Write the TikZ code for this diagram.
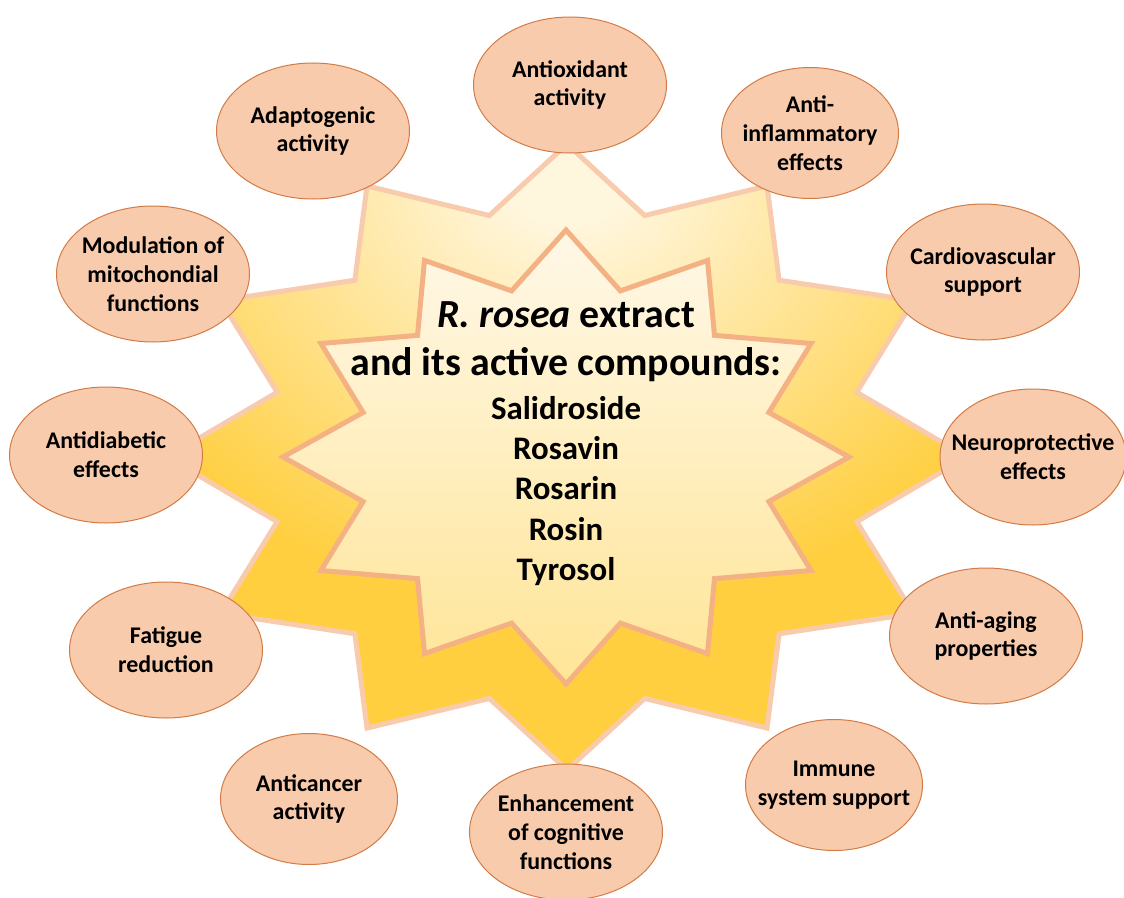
\documentclass[tikz,border=0pt]{standalone}
\usepackage{fontspec}
\setmainfont{Carlito}
\usetikzlibrary{shapes.geometric}

\definecolor{effectfill}{HTML}{F8CBAD}
\definecolor{effectline}{HTML}{D27B45}
\definecolor{starline}{HTML}{F8CBAD}
\definecolor{coreline}{HTML}{F4B183}
\definecolor{glowlight}{HTML}{FFF6DE}
\definecolor{glowgold}{HTML}{FFCF40}
\definecolor{coretop}{HTML}{FFF8E8}
\definecolor{corebottom}{HTML}{FFE597}

\pgfdeclareradialshading{starglow}{\pgfpoint{0bp}{0bp}}{%
  color(0bp)=(glowlight); color(3bp)=(glowlight);
  color(25bp)=(glowgold); color(50bp)=(glowgold)}

% 12-point stars, polar with separate x and y radii
\def\outerstar{(90:400 and 313) \foreach \a in {90,120,...,390}
  {-- (\a+15:300 and 250) -- (\a+30:400 and 313)} -- (75:300 and 250) -- cycle}
\def\innerstar{(90:283 and 227) \foreach \a in {90,120,...,390}
  {-- (\a+15:210 and 172) -- (\a+30:283 and 227)} -- (75:210 and 172) -- cycle}

\begin{document}
\begin{tikzpicture}[x=1bp, y=-1bp,
  effect/.style = {shape=ellipse, draw=effectline, fill=effectfill,
    line width=1bp, inner xsep=-25bp, inner ysep=0pt, align=center,
    minimum width=193bp, minimum height=136bp,
    font=\fontsize{24}{29}\selectfont\bfseries},
  narrow/.style = {minimum width=177bp, minimum height=131bp},
  core/.style = {align=center, inner sep=0pt, anchor=north}]
  \useasboundingbox (0,0) rectangle (1124,898);
  \begin{scope}[shift={(567,457)}]
    \fill[glowgold] \outerstar;
    \begin{scope}
      \clip \outerstar;
      \shade[shading=starglow] (0,-287) ellipse (520 and 440);
    \end{scope}
    \draw[starline, line width=5bp] \outerstar;
  \end{scope}
  \shadedraw[top color=coretop, bottom color=corebottom, draw=coreline,
    line width=5bp, shift={(566,457)}] \innerstar;

  \node[core, font=\fontsize{40}{49}\selectfont\bfseries] (title) at (566,301)
    {\textit{R. rosea} extract\\and its active compounds:};
  \node[core, font=\fontsize{33}{40.5}\selectfont\bfseries] (compounds) at (566,396)
    {Salidroside\\Rosavin\\Rosarin\\Rosin\\Tyrosol};

  \node[effect] (antiox) at (570,85) {Antioxidant\\activity};
  \node[effect, narrow] (antiinfl) at (810,133) {Anti-\\inflammatory\\effects};
  \node[effect] (cardio) at (983,272) {Cardiovascular\\support};
  \node[effect, minimum width=186bp] (neuro) at (1033,457) {Neuroprotective\\effects};
  \node[effect] (aging) at (986,636) {Anti-aging\\properties};
  \node[effect, narrow] (immune) at (834,785) {Immune\\system support};
  \node[effect] (cognit) at (566,832) {Enhancement\\of cognitive\\functions};
  \node[effect, narrow] (cancer) at (309,799) {Anticancer\\activity};
  \node[effect] (fatigue) at (166,650) {Fatigue\\reduction};
  \node[effect] (diabet) at (106,455) {Antidiabetic\\effects};
  \node[effect] (mito) at (153,274) {Modulation of\\mitochondial\\functions};
  \node[effect] (adapt) at (313,131) {Adaptogenic\\activity};
\end{tikzpicture}
\end{document}
